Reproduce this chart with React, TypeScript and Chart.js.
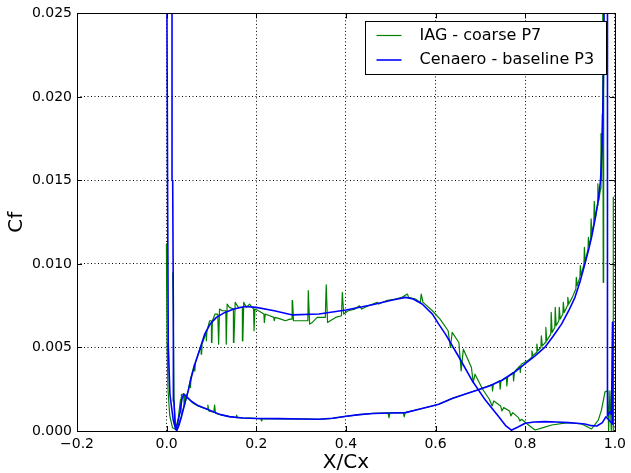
import React, { useEffect, useRef } from "react";
import { Chart, registerables } from "chart.js";

Chart.register(...registerables);

const xTicks = [-0.2, 0.0, 0.2, 0.4, 0.6, 0.8, 1.0];
const yTicks = [0.0, 0.005, 0.01, 0.015, 0.02, 0.025];
const seriesLabels = ["IAG - coarse P7", "Cenaero - baseline P3"];
const seriesColors = ["#008000", "#0000ff"];
const xTitle = "X/Cx";
const yTitle = "Cf";

// Cenaero – pressure side, leading edge -> trailing edge
const cenaeroPressure: [number, number][] = [
  [0.0, 0.032], [0.0007, 0.025], [0.0022, 0.0138], [0.0036, 0.0052], [0.0073, 0.0022],
  [0.0147, 0.00065], [0.02, 0.0001], [0.024, 0.0004], [0.0296, 0.0011], [0.034, 0.0019],
  [0.038, 0.00222], [0.045, 0.00205], [0.055, 0.00178], [0.07, 0.00152], [0.085, 0.00136],
  [0.1, 0.0012], [0.12, 0.00098], [0.14, 0.00086], [0.17, 0.00078], [0.2, 0.00075],
  [0.25, 0.00074], [0.3, 0.00072], [0.34, 0.0007], [0.37, 0.00076], [0.4, 0.00088],
  [0.43, 0.00098], [0.46, 0.00105], [0.5, 0.00108], [0.533, 0.0011], [0.563, 0.0013],
  [0.59, 0.00148], [0.607, 0.0016], [0.637, 0.00195], [0.665, 0.0022], [0.692, 0.00244],
  [0.72, 0.0027], [0.748, 0.00304], [0.775, 0.0035], [0.8, 0.00403], [0.822, 0.0045],
  [0.844, 0.00502], [0.863, 0.0057], [0.881, 0.0064], [0.897, 0.0072], [0.911, 0.008],
  [0.923, 0.009], [0.933, 0.01], [0.941, 0.0108], [0.948, 0.0116], [0.956, 0.0127],
  [0.963, 0.0138], [0.968, 0.015], [0.972, 0.0175], [0.975, 0.022], [0.978, 0.032],
];

// Cenaero – trailing edge closure
const cenaeroTrailingEdge: [number, number][] = [
  [0.9835, 0.032], [0.9835, 0.0009], [0.989, 0.00115], [0.9925, 0.001],
  [0.9947, 0.0065], [0.9955, 0.0004],
];

// Cenaero – suction side, leading edge -> trailing edge
const cenaeroSuction: [number, number][] = [
  [0.011, 0.032], [0.012, 0.025], [0.0135, 0.015], [0.015, 0.007], [0.0162, 0.0018],
  [0.019, 0.0004], [0.0222, 0.0], [0.027, 0.0003], [0.033, 0.00085], [0.04, 0.0016],
  [0.048, 0.0024], [0.055, 0.0032], [0.063, 0.004], [0.074, 0.0049], [0.085, 0.0058],
  [0.097, 0.0064], [0.111, 0.0068], [0.13, 0.0071], [0.15, 0.0073], [0.175, 0.00745],
  [0.2, 0.0074], [0.24, 0.0072], [0.281, 0.00695], [0.34, 0.007], [0.4, 0.00724],
  [0.459, 0.00756], [0.504, 0.00784], [0.533, 0.008], [0.55, 0.0079], [0.57, 0.0076],
  [0.593, 0.007], [0.607, 0.0064], [0.622, 0.0058], [0.652, 0.00443], [0.681, 0.00304],
  [0.711, 0.00185], [0.741, 0.00085], [0.757, 0.0003], [0.769, 0.00005], [0.785, 0.00025],
  [0.8, 0.00046], [0.82, 0.00054], [0.844, 0.00056], [0.87, 0.00054], [0.896, 0.0005],
  [0.915, 0.00046], [0.933, 0.00042], [0.948, 0.00032], [0.96, 0.0003], [0.972, 0.0005],
  [0.98, 0.00085],
];

// IAG – pressure side, leading edge -> trailing edge
const iagPressure: [number, number][] = [
  [-0.0005, 0.0112], [0.0, 0.0085], [0.001, 0.0052], [0.003, 0.0025], [0.007, 0.0009],
  [0.013, 0.0002], [0.02, 0.0001], [0.026, 0.0008], [0.031, 0.0019], [0.032, 0.0011],
  [0.033, 0.0022], [0.038, 0.0022], [0.039, 0.0015], [0.04, 0.0021], [0.05, 0.0019],
  [0.06, 0.00165], [0.07, 0.0015], [0.08, 0.0014], [0.091, 0.0013], [0.092, 0.00155],
  [0.094, 0.0012], [0.105, 0.00112], [0.107, 0.00155], [0.109, 0.00105], [0.12, 0.00098],
  [0.14, 0.00086], [0.155, 0.0008], [0.156, 0.00095], [0.158, 0.0008], [0.17, 0.00078],
  [0.2, 0.00075], [0.21, 0.00072], [0.212, 0.0006], [0.214, 0.00073], [0.25, 0.00074],
  [0.3, 0.00072], [0.34, 0.0007], [0.37, 0.00076], [0.4, 0.00088], [0.43, 0.00098],
  [0.46, 0.00105], [0.494, 0.00108], [0.496, 0.0008], [0.498, 0.00108], [0.528, 0.0011],
  [0.53, 0.00085], [0.532, 0.0011], [0.563, 0.0013], [0.607, 0.0016], [0.637, 0.00195],
  [0.665, 0.0022], [0.692, 0.00244], [0.726, 0.00278], [0.727, 0.0024], [0.729, 0.0028],
  [0.743, 0.003], [0.744, 0.0025], [0.746, 0.003], [0.758, 0.0032], [0.759, 0.0027],
  [0.761, 0.00325], [0.773, 0.0035], [0.774, 0.003], [0.776, 0.00355], [0.788, 0.0039],
  [0.789, 0.0035], [0.791, 0.004], [0.805, 0.0042], [0.814, 0.0044], [0.815, 0.0048],
  [0.817, 0.0045], [0.825, 0.0047], [0.826, 0.0052], [0.828, 0.0048], [0.835, 0.005],
  [0.836, 0.0057], [0.838, 0.0051], [0.845, 0.0053], [0.846, 0.0062], [0.848, 0.0054],
  [0.857, 0.0058], [0.858, 0.0071], [0.86, 0.0059], [0.866, 0.0062], [0.867, 0.0074],
  [0.869, 0.0063], [0.875, 0.0066], [0.876, 0.0074], [0.878, 0.0067], [0.884, 0.007],
  [0.885, 0.0077], [0.887, 0.0071], [0.894, 0.0075], [0.895, 0.008], [0.897, 0.0076],
  [0.905, 0.008], [0.913, 0.0085], [0.914, 0.0092], [0.916, 0.0087], [0.922, 0.0092],
  [0.923, 0.0099], [0.925, 0.0093], [0.931, 0.01], [0.932, 0.011], [0.934, 0.0101],
  [0.94, 0.0109], [0.941, 0.0116], [0.943, 0.0111], [0.946, 0.0115], [0.947, 0.0127],
  [0.949, 0.0118], [0.953, 0.0124], [0.954, 0.01375], [0.956, 0.0127], [0.961, 0.0135],
  [0.962, 0.0148], [0.964, 0.0138], [0.968, 0.0145], [0.969, 0.0178], [0.97, 0.015],
  [0.972, 0.019], [0.973, 0.03], [0.974, 0.0089], [0.975, 0.03],
];

// IAG – trailing edge (null = break in the line)
const iagTrailingEdge: [number, number | null][] = [
  [0.985, null], [0.9965, 0.014], [0.9965, 0.0], [0.994, 0.0022], [0.992, 0.0],
  [0.989, 0.0024], [0.986, 0.0],
];

// IAG – suction side, leading edge -> trailing edge
const iagSuction: [number, number][] = [
  [0.0135, 0.0095], [0.015, 0.0065], [0.0165, 0.002], [0.019, 0.0004], [0.0222, 0.00005],
  [0.027, 0.0004], [0.033, 0.0009], [0.04, 0.0016], [0.048, 0.0024], [0.053, 0.0031],
  [0.0535, 0.0026], [0.054, 0.0032], [0.062, 0.004], [0.063, 0.0036], [0.064, 0.0041],
  [0.077, 0.0051], [0.078, 0.0046], [0.079, 0.0052], [0.088, 0.0059], [0.089, 0.0054],
  [0.09, 0.006], [0.096, 0.0066], [0.1, 0.0066], [0.101, 0.0053], [0.102, 0.0066],
  [0.108, 0.007], [0.114, 0.007], [0.116, 0.0052], [0.118, 0.0073], [0.124, 0.0072],
  [0.132, 0.0072], [0.133, 0.0052], [0.135, 0.0076], [0.14, 0.0074], [0.149, 0.0073],
  [0.15, 0.0053], [0.153, 0.0077], [0.16, 0.0074], [0.169, 0.0074], [0.17, 0.0054],
  [0.172, 0.0077], [0.178, 0.0074], [0.185, 0.0076], [0.194, 0.0073], [0.195, 0.006],
  [0.197, 0.0073], [0.205, 0.0072], [0.217, 0.007], [0.218, 0.0065], [0.22, 0.007],
  [0.23, 0.0069], [0.239, 0.0068], [0.24, 0.0066], [0.242, 0.0068], [0.255, 0.0067],
  [0.265, 0.0066], [0.275, 0.0067], [0.28, 0.0067], [0.281, 0.0078], [0.283, 0.0066],
  [0.295, 0.0066], [0.31, 0.0066], [0.315, 0.0066], [0.316, 0.0084], [0.319, 0.0064],
  [0.325, 0.0065], [0.336, 0.0068], [0.354, 0.0068], [0.356, 0.00875], [0.359, 0.0065],
  [0.365, 0.0066], [0.377, 0.0068], [0.39, 0.0069], [0.392, 0.0083], [0.395, 0.007],
  [0.405, 0.0072], [0.42, 0.0073], [0.43, 0.0075], [0.435, 0.0073], [0.45, 0.0075],
  [0.47, 0.0077], [0.473, 0.0076], [0.49, 0.0078], [0.51, 0.0079], [0.525, 0.008],
  [0.537, 0.0082], [0.54, 0.008], [0.555, 0.0079], [0.566, 0.0077], [0.568, 0.0082],
  [0.572, 0.0077], [0.593, 0.0072], [0.61, 0.0067], [0.628, 0.006], [0.633, 0.005],
  [0.637, 0.0059], [0.652, 0.0053], [0.657, 0.0036], [0.662, 0.0049], [0.68, 0.0038],
  [0.684, 0.0029], [0.688, 0.0034], [0.705, 0.0025], [0.72, 0.0019], [0.726, 0.0015],
  [0.73, 0.0018], [0.745, 0.0015], [0.748, 0.0012], [0.752, 0.0014], [0.765, 0.0012],
  [0.768, 0.0009], [0.772, 0.0011], [0.785, 0.0008], [0.788, 0.0006], [0.792, 0.0007],
  [0.81, 0.0003], [0.822, 0.00006], [0.84, 0.0002], [0.859, 0.00036], [0.896, 0.0005],
  [0.926, 0.00042], [0.948, 0.00012], [0.963, 0.00065], [0.97, 0.00125], [0.978, 0.00234],
  [0.9845, 0.0024],
];

const FONT = "'DejaVu Sans', 'Liberation Sans', sans-serif";

const toPoints = (arr: [number, number | null][]) => arr.map(([x, y]) => ({ x, y }));

const iagData = [
  ...toPoints(iagPressure),
  ...toPoints(iagTrailingEdge),
  ...toPoints([...iagSuction].reverse()),
];
const cenaeroData = [
  ...toPoints(cenaeroPressure),
  ...toPoints(cenaeroTrailingEdge),
  ...toPoints([...cenaeroSuction].reverse()),
];

const fmtX = (v: number) => {
  const s = Math.abs(v).toFixed(1);
  return v < -1e-9 ? "\u2212" + s : s;
};
const fmtY = (v: number) => Math.abs(v).toFixed(3);

const framePlugin = {
  id: "mplFrame",
  afterDatasetsDraw(chart: any) {
    const { ctx, chartArea } = chart;
    const { left, right, top, bottom } = chartArea;
    const xs = chart.scales.x;
    const ys = chart.scales.y;
    ctx.save();
    ctx.strokeStyle = "#000";
    ctx.lineWidth = 1;
    ctx.setLineDash([]);
    ctx.beginPath();
    const tl = 5;
    xTicks.forEach((v) => {
      const p = Math.round(xs.getPixelForValue(v)) + 0.5;
      ctx.moveTo(p, bottom);
      ctx.lineTo(p, bottom - tl);
      ctx.moveTo(p, top);
      ctx.lineTo(p, top + tl);
    });
    yTicks.forEach((v) => {
      const p = Math.round(ys.getPixelForValue(v)) + 0.5;
      ctx.moveTo(left, p);
      ctx.lineTo(left + tl, p);
      ctx.moveTo(right, p);
      ctx.lineTo(right - tl, p);
    });
    ctx.stroke();
    ctx.strokeRect(Math.round(left) + 0.5, Math.round(top) + 0.5, Math.round(right - left), Math.round(bottom - top));
    ctx.restore();
  },
};

const legendPlugin = {
  id: "mplLegend",
  afterDraw(chart: any) {
    const { ctx, chartArea } = chart;
    const w = 241;
    const h = 53;
    const x0 = Math.round(chartArea.right - 9 - w) + 0.5;
    const y0 = Math.round(chartArea.top + 8) + 0.5;
    ctx.save();
    ctx.fillStyle = "#fff";
    ctx.fillRect(x0, y0, w, h);
    ctx.strokeStyle = "#000";
    ctx.lineWidth = 1;
    ctx.strokeRect(x0, y0, w, h);
    ctx.font = `16px ${FONT}`;
    ctx.textBaseline = "middle";
    ctx.textAlign = "left";
    chart.data.datasets.forEach((ds: any, i: number) => {
      const cy = y0 + 14 + i * 24.5;
      ctx.strokeStyle = ds.borderColor;
      ctx.lineWidth = ds.borderWidth;
      ctx.beginPath();
      ctx.moveTo(x0 + 11, cy);
      ctx.lineTo(x0 + 36, cy);
      ctx.stroke();
      ctx.fillStyle = "#000";
      ctx.fillText(ds.label, x0 + 54, cy);
    });
    ctx.restore();
  },
};

export default function App() {
  const ref = useRef<HTMLCanvasElement>(null);
  useEffect(() => {
    document.body.style.margin = "0";
    const chart = new Chart(ref.current as HTMLCanvasElement, {
      type: "line",
      data: {
        datasets: [
          {
            label: seriesLabels[0],
            data: iagData as any,
            borderColor: seriesColors[0],
            backgroundColor: seriesColors[0],
            borderWidth: 1.2,
            pointRadius: 0,
            tension: 0,
            spanGaps: false,
            borderJoinStyle: "round",
            order: 1,
          },
          {
            label: seriesLabels[1],
            data: cenaeroData as any,
            borderColor: seriesColors[1],
            backgroundColor: seriesColors[1],
            borderWidth: 1.6,
            pointRadius: 0,
            tension: 0,
            spanGaps: false,
            borderJoinStyle: "round",
            order: 0,
          },
        ],
      },
      options: {
        animation: false,
        responsive: false,
        devicePixelRatio: 1,
        layout: { padding: { left: 0, right: 14, top: 11, bottom: 0 } },
        plugins: { legend: { display: false }, tooltip: { enabled: false } },
        scales: {
          x: {
            type: "linear",
            min: -0.2,
            max: 1.0,
            afterBuildTicks: (scale: any) => {
              scale.ticks = xTicks.map((v) => ({ value: v }));
            },
            afterFit: (scale: any) => {
              scale.height = 42;
            },
            ticks: {
              autoSkip: false,
              maxRotation: 0,
              padding: 5,
              color: "#000",
              font: { family: FONT, size: 14 },
              callback: (v: any) => fmtX(Number(v)),
            },
            grid: { color: "#000", lineWidth: 1, drawTicks: false },
            border: { display: false, dash: [1, 2.5] },
            title: {
              display: true,
              text: xTitle,
              color: "#000",
              font: { family: FONT, size: 20, lineHeight: 1 },
              padding: { top: 0, bottom: 0 },
            },
          },
          y: {
            type: "linear",
            min: 0,
            max: 0.025,
            afterBuildTicks: (scale: any) => {
              scale.ticks = yTicks.map((v) => ({ value: v }));
            },
            afterFit: (scale: any) => {
              scale.width = 77;
            },
            ticks: {
              autoSkip: false,
              padding: 5,
              color: "#000",
              font: { family: FONT, size: 14 },
              callback: (v: any) => fmtY(Number(v)),
            },
            grid: { color: "#000", lineWidth: 1, drawTicks: false },
            border: { display: false, dash: [1, 2.5] },
            title: {
              display: true,
              text: yTitle,
              color: "#000",
              font: { family: FONT, size: 20, lineHeight: 1 },
              padding: { top: 7, bottom: 0 },
            },
          },
        },
      },
      plugins: [framePlugin, legendPlugin],
    } as any);
    return () => chart.destroy();
  }, []);
  return (
    <div style={{ position: "absolute", left: 0, top: 0, width: 631, height: 473, background: "#fff" }}>
      <canvas ref={ref} width={631} height={473} style={{ display: "block", width: 631, height: 473 }} />
    </div>
  );
}
